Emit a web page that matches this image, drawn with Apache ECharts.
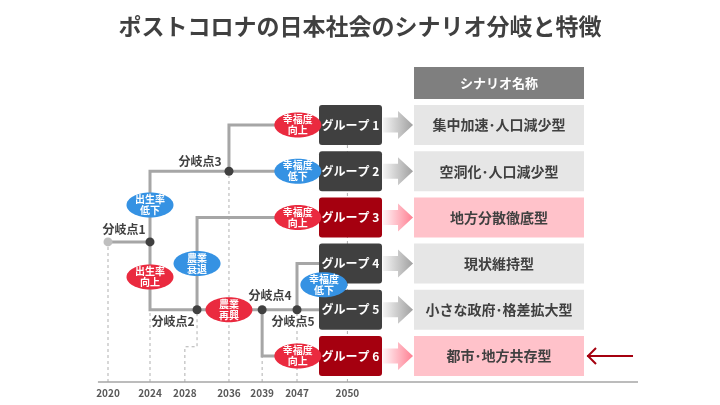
<!DOCTYPE html>
<html><head><meta charset="utf-8">
<script src="https://cdn.jsdelivr.net/npm/echarts@6/dist/echarts.min.js"></script>
<style>html,body{margin:0;padding:0;background:#fff}#c{width:720px;height:405px}</style>
</head><body><div id="c"></div>
<script>
// ---------- data ----------
const titleText = 'ポストコロナの日本社会のシナリオ分岐と特徴';
const years = ['2020', '2024', '2028', '2036', '2039', '2047', '2050'];
const groups = ['グループ 1', 'グループ 2', 'グループ 3', 'グループ 4', 'グループ 5', 'グループ 6'];
const scenarios = ['集中加速･人口減少型', '空洞化･人口減少型', '地方分散徹底型', '現状維持型', '小さな政府･格差拡大型', '都市･地方共存型'];
const highlighted = [false, false, true, false, false, true];
const headerLabel = 'シナリオ名称';
const branchNames = ['分岐点1', '分岐点2', '分岐点3', '分岐点4', '分岐点5'];
const factorLabels = ['出生率\n低下', '出生率\n向上', '農業\n衰退', '農業\n再興', '幸福度\n向上', '幸福度\n低下', '幸福度\n向上', '幸福度\n低下', '幸福度\n向上'];
const factorTone = ['down', 'up', 'down', 'up', 'up', 'down', 'up', 'down', 'up'];
const selectedScenario = 5;

// ---------- layout (x: timeline slots, y: scenario rows) ----------
const yearPos = [0, 1, 1.83, 2.88, 3.67, 4.5, 5.7];
const AXIS_Y = 6.563, AXIS_X0 = -0.24, AXIS_X1 = 12.62, GROUP_X = 5.024;
const nodes = {
  start: [yearPos[0], 3.53], b1: [yearPos[1], 3.53], b2: [2.12, 5], b3: [yearPos[3], 2],
  b4: [yearPos[4], 5], b5: [yearPos[5], 5],
  g1: [GROUP_X, 1], g2: [GROUP_X, 2], g3: [GROUP_X, 3], g4: [GROUP_X, 4], g5: [GROUP_X, 5], g6: [GROUP_X, 6]
};
const edges = [['start', 'b1'], ['b1', 'b3'], ['b1', 'b2'], ['b3', 'g1'], ['b3', 'g2'], ['b2', 'g3'],
  ['b2', 'b4'], ['b4', 'b5'], ['b5', 'g5'], ['b4', 'g6'], ['b5', 'g4']];
const branchNodes = ['b1', 'b2', 'b3', 'b4', 'b5'];
const branchLabelOffset = [[-26, -12], [-24, 12], [-29, -10], [8, -14], [-4, 12]];
const factorPos = [[1, 2.73], [1, 4.29], [2.12, 4.0], [2.88, 5], [4.52, 1], [4.52, 2], [4.52, 3], [5.14, 4.46], [4.52, 6]];
const guides = [
  [[yearPos[0], AXIS_Y], nodes.start],
  [[yearPos[1], AXIS_Y], nodes.b1],
  [[yearPos[2], AXIS_Y], [yearPos[2], 5.8], [2.12, 5.8], nodes.b2],
  [[yearPos[3], AXIS_Y], nodes.b3],
  [[yearPos[4], AXIS_Y], nodes.b4],
  [[yearPos[5], AXIS_Y], nodes.b5],
  [[yearPos[6], AXIS_Y], [yearPos[6], 0.6]]
];

// ---------- styles ----------
const FONT = '"Noto Sans CJK JP", "Noto Sans", sans-serif';
const LINE = '#a6a6a6', DARK = '#404040', DARKRED = '#a5000f';
const BLUE = '#3592e3', RED = '#ea2a3f';
const BOX_W = 63, BOX_H = 40, SC_GAP = 32, SC_W = 170;

const chart = echarts.init(document.getElementById('c'));
const idx = arr => arr.map((_, i) => [0, 0, i]);
const base = { type: 'custom', coordinateSystem: 'cartesian2d', silent: true, clip: false, animation: false };

function elbow(a, b) { return [a, [a[0], b[1]], b]; }

const series = [
  // dashed guides
  Object.assign({}, base, { data: idx(guides), z: 1, renderItem: (p, api) => ({
    type: 'polyline', shape: { points: guides[p.dataIndex].map(q => api.coord(q)) },
    style: { stroke: '#b0b0b0', lineWidth: 1, lineDash: [3, 3], fill: null } }) }),
  // timeline axis + years
  Object.assign({}, base, { data: [[0, 0, 0]], z: 2, renderItem: (p, api) => {
    const a = api.coord([AXIS_X0, AXIS_Y]), b = api.coord([AXIS_X1, AXIS_Y]);
    const children = [{ type: 'line', shape: { x1: a[0], y1: a[1], x2: b[0], y2: b[1] }, style: { stroke: '#a6a6a6', lineWidth: 1.5 } }];
    years.forEach((y, i) => { const c = api.coord([yearPos[i], AXIS_Y]);
      children.push({ type: 'text', style: { text: y, x: c[0], y: c[1] + 11, fill: '#595959', font: 'bold 10px ' + FONT, align: 'center', verticalAlign: 'middle' } }); });
    return { type: 'group', children };
  } }),
  // tree edges
  Object.assign({}, base, { data: idx(edges), z: 3, renderItem: (p, api) => {
    const e = edges[p.dataIndex];
    return { type: 'polyline', shape: { points: elbow(nodes[e[0]], nodes[e[1]]).map(q => api.coord(q)) },
      style: { stroke: LINE, lineWidth: 3, fill: null, lineJoin: 'miter' } };
  } }),
  // dots
  Object.assign({}, base, { data: idx(['start'].concat(branchNodes)), z: 4, renderItem: (p, api) => {
    const id = ['start'].concat(branchNodes)[p.dataIndex]; const c = api.coord(nodes[id]);
    return { type: 'circle', shape: { cx: c[0], cy: c[1], r: 4.5 }, style: { fill: id === 'start' ? '#bfbfbf' : DARK } };
  } }),
  // branch labels
  Object.assign({}, base, { data: idx(branchNames), z: 5, renderItem: (p, api) => {
    const c = api.coord(nodes[branchNodes[p.dataIndex]]); const o = branchLabelOffset[p.dataIndex];
    return { type: 'text', style: { text: branchNames[p.dataIndex], x: c[0] + o[0], y: c[1] + o[1], fill: DARK,
      font: 'bold 12px ' + FONT, align: 'center', verticalAlign: 'middle' } };
  } }),
  // group boxes, arrows, scenario boxes
  Object.assign({}, base, { data: idx(groups), z: 6, renderItem: (p, api) => {
    const i = p.dataIndex, c = api.coord([GROUP_X, i + 1]);
    const x0 = c[0], cy = c[1], hl = highlighted[i];
    const ax0 = x0 + BOX_W + 1, ax1 = ax0 + 15, ax2 = ax0 + 30;
    const sx = x0 + BOX_W + SC_GAP;
    return { type: 'group', children: [
      { type: 'rect', shape: { x: x0, y: cy - BOX_H / 2, width: BOX_W, height: BOX_H, r: 3 }, style: { fill: hl ? DARKRED : DARK } },
      { type: 'text', style: { text: groups[i], x: x0 + BOX_W / 2, y: cy, fill: '#fff', font: 'bold 12px ' + FONT, align: 'center', verticalAlign: 'middle' } },
      { type: 'polygon', shape: { points: [[ax0, cy - 7.5], [ax1, cy - 7.5], [ax1, cy - 14], [ax2, cy], [ax1, cy + 14], [ax1, cy + 7.5], [ax0, cy + 7.5]] },
        style: { fill: new echarts.graphic.LinearGradient(0, 0, 1, 0, hl ?
          [{ offset: 0, color: '#fff4f6' }, { offset: 1, color: '#ff7f92' }] :
          [{ offset: 0, color: '#f4f4f4' }, { offset: 1, color: '#a0a0a0' }]) } },
      { type: 'rect', shape: { x: sx, y: cy - BOX_H / 2, width: SC_W, height: BOX_H }, style: { fill: hl ? '#ffc2ca' : '#e6e6e6' } },
      { type: 'text', style: { text: scenarios[i], x: sx + SC_W / 2, y: cy, fill: DARK, font: 'bold 14px ' + FONT, align: 'center', verticalAlign: 'middle' } }
    ] };
  } }),
  // header + selection arrow
  Object.assign({}, base, { data: [[0, 0, 0]], z: 6, renderItem: (p, api) => {
    const c = api.coord([GROUP_X, 1]); const sx = c[0] + BOX_W + SC_GAP; const top = c[1] - BOX_H / 2 - 6 - 32;
    const r = api.coord([GROUP_X, selectedScenario + 1]); const ex = sx + SC_W + 3, cy = r[1];
    return { type: 'group', children: [
      { type: 'rect', shape: { x: sx, y: top, width: SC_W, height: 32 }, style: { fill: '#7f7f7f' } },
      { type: 'text', style: { text: headerLabel, x: sx + SC_W / 2, y: top + 16, fill: '#fff', font: 'bold 13px ' + FONT, align: 'center', verticalAlign: 'middle' } },
      { type: 'line', shape: { x1: ex, y1: cy, x2: ex + 46, y2: cy }, style: { stroke: DARKRED, lineWidth: 2 } },
      { type: 'polyline', shape: { points: [[ex + 9, cy - 8], [ex + 1, cy], [ex + 9, cy + 8]] }, style: { stroke: DARKRED, lineWidth: 2, fill: null } }
    ] };
  } }),
  // factor ellipses
  Object.assign({}, base, { data: idx(factorLabels), z: 8, renderItem: (p, api) => {
    const i = p.dataIndex, c = api.coord(factorPos[i]);
    return { type: 'group', children: [
      { type: 'ellipse', shape: { cx: c[0], cy: c[1], rx: 23.5, ry: 12.5 }, style: { fill: factorTone[i] === 'up' ? RED : BLUE } },
      { type: 'text', style: { text: factorLabels[i], x: c[0], y: c[1], fill: '#fff', font: 'bold 10px ' + FONT, lineHeight: 11, align: 'center', verticalAlign: 'middle' } }
    ] };
  } })
];

chart.setOption({
  animation: false,
  title: { text: titleText, left: 'center', top: 10, textStyle: { fontSize: 23, fontWeight: 'bold', color: DARK, fontFamily: FONT } },
  grid: { left: 0, right: 0, top: 0, bottom: 0 },
  xAxis: { type: 'value', min: -108 / 42, max: (720 - 108) / 42, show: false },
  yAxis: { type: 'value', inverse: true, min: -78.8 / 46.2, max: (405 - 78.8) / 46.2, show: false },
  series
});
</script></body></html>
